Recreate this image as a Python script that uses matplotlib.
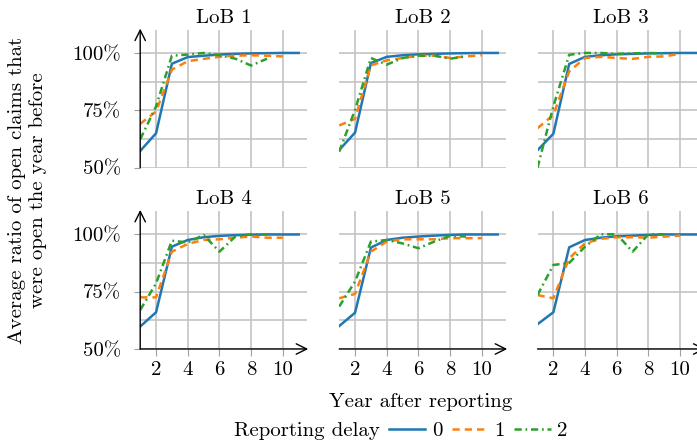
import numpy as np
import matplotlib
matplotlib.use('Agg')
import matplotlib.pyplot as plt
from matplotlib.lines import Line2D

# x: year after reporting
years = np.arange(1, 12)
lob_names = ['LoB 1', 'LoB 2', 'LoB 3', 'LoB 4', 'LoB 5', 'LoB 6']
delay_labels = ['0', '1', '2']

# average ratio of open claims (%), reporting delay 0 (years 1..11)
delay0 = [
    [57.3, 65.0, 95.3, 98.2, 98.8, 99.3, 99.6, 99.8, 99.9, 100.0, 100.0],
    [57.7, 65.3, 95.6, 98.3, 99.0, 99.4, 99.6, 99.8, 99.9, 100.0, 100.0],
    [57.6, 64.8, 95.2, 98.3, 99.0, 99.4, 99.6, 99.8, 99.9, 100.0, 100.0],
    [59.8, 66.0, 94.6, 97.5, 98.7, 99.3, 99.6, 99.8, 99.9, 99.9, 99.9],
    [60.0, 65.8, 94.2, 97.5, 98.5, 99.0, 99.4, 99.7, 99.9, 99.9, 99.9],
    [60.8, 66.0, 94.3, 97.5, 98.5, 99.1, 99.4, 99.7, 99.9, 99.9, 99.9],
]
# reporting delay 1 (years 1..10)
delay1 = [
    [69.1, 74.5, 92.7, 96.4, 97.4, 98.3, 98.8, 99.0, 98.8, 98.5],
    [68.4, 71.3, 94.6, 96.8, 97.8, 98.8, 98.8, 97.8, 98.5, 99.0],
    [67.2, 73.0, 92.0, 97.8, 98.3, 97.8, 97.4, 98.3, 98.5, 99.6],
    [72.5, 72.5, 92.4, 95.8, 97.5, 97.8, 98.5, 99.0, 98.5, 98.5],
    [72.1, 74.0, 92.4, 96.8, 97.8, 97.8, 97.8, 98.3, 98.3, 98.3],
    [73.5, 72.1, 89.5, 96.1, 98.0, 98.7, 98.7, 98.5, 99.0, 99.4],
]
# reporting delay 2 (years 1..9)
delay2 = [
    [62.4, 76.7, 98.8, 99.3, 100.0, 99.0, 97.5, 94.5, 97.5],
    [57.0, 75.2, 97.8, 94.9, 97.8, 98.8, 98.8, 97.5, 98.5],
    [50.0, 76.7, 99.2, 100.0, 100.0, 99.6, 99.8, 100.0, 99.8],
    [67.0, 78.6, 97.2, 96.4, 99.7, 92.4, 99.0, 100.0, 100.0],
    [68.5, 79.4, 96.8, 97.5, 96.0, 93.9, 96.8, 99.3, 99.0],
    [73.5, 86.6, 87.5, 94.6, 100.0, 100.0, 92.4, 100.0, 100.0],
]

ytick_vals = [50, 75, 100]
ytick_labels = ['50%', '75%', '100%']
yminor_vals = [62.5, 87.5]
xtick_vals = [2, 4, 6, 8, 10]

colors = ['#1f77b4', '#ff7f0e', '#2ca02c']
styles = ['-', (0, (2.9, 2.0)), (0, (2.9, 1.5, 0.7, 1.5))]
lw = 1.8

plt.rcParams['font.family'] = ['cmr10', 'DejaVu Serif']
plt.rcParams['mathtext.fontset'] = 'cm'
plt.rcParams['font.size'] = 15

W, H = 697, 446
fig = plt.figure(figsize=(W / 100, H / 100), dpi=100)

# panel layout in pixels
col_left = [140.2, 339.2, 537.5]
row_top = [30.0, 211.3]
pw, ph = 166.4, 137.7

series = [delay0, delay1, delay2]
for i, name in enumerate(lob_names):
    r, c = divmod(i, 3)
    ax = fig.add_axes([col_left[c] / W, 1 - (row_top[r] + ph) / H, pw / W, ph / H])
    ax.set_xlim(1, 11.5)
    ax.set_ylim(50, 110)
    ax.set_xticks(xtick_vals)
    ax.set_yticks(ytick_vals)
    ax.set_yticklabels(ytick_labels)
    # LoB 6 has no minor grid in the original
    if name != 'LoB 6':
        ax.set_yticks(yminor_vals, minor=True)
    ax.grid(True, which='both', color='#c4c4c4', lw=1.2)
    ax.set_axisbelow(True)
    for s in ax.spines.values():
        s.set_visible(False)
    ax.tick_params(which='both', length=0, colors='#a0a0a0', labelcolor='black')

    for d in range(3):
        vals = series[d][i]
        ax.plot(years[:len(vals)], vals, color=colors[d], ls=styles[d], lw=lw)

    ax.set_title(name, fontsize=15, pad=5)

    if r == 1:
        ax.tick_params(axis='x', which='major', length=5, direction='out', pad=4)
        ax.annotate('', xy=(11.6, 50), xytext=(1, 50), xycoords='data',
                    arrowprops=dict(arrowstyle='->,head_length=0.5,head_width=0.25',
                                    lw=1.0, color='black', shrinkA=0, shrinkB=0),
                    annotation_clip=False)
    else:
        ax.tick_params(axis='x', labelbottom=False)

    if c == 0:
        ax.tick_params(axis='y', which='major', length=4, direction='out', pad=10)
        ax.annotate('', xy=(1, 110.6), xytext=(1, 50), xycoords='data',
                    arrowprops=dict(arrowstyle='->,head_length=0.5,head_width=0.25',
                                    lw=1.0, color='black', shrinkA=0, shrinkB=0),
                    annotation_clip=False)
    else:
        ax.tick_params(axis='y', labelleft=False)

fig.text(27.5 / W, 1 - 190 / H,
         'Average ratio of open claims that\nwere open the year before',
         rotation=90, ha='center', va='center', multialignment='center',
         linespacing=1.2)
fig.text(421 / W, 1 - 402 / H, 'Year after reporting', ha='center', va='center')

handles = [Line2D([], [], color=colors[d], ls=styles[d], lw=lw) for d in range(3)]
fig.text(380 / W, 1 - 431 / H, 'Reporting delay', ha='right', va='center')
fig.legend(handles, delay_labels, loc='center left',
           bbox_to_anchor=(389 / W, 1 - 431 / H), ncol=3, frameon=False,
           handlelength=1.75, handletextpad=0.3, columnspacing=0.45,
           borderpad=0, borderaxespad=0)

fig.savefig('out.png', dpi=100)
